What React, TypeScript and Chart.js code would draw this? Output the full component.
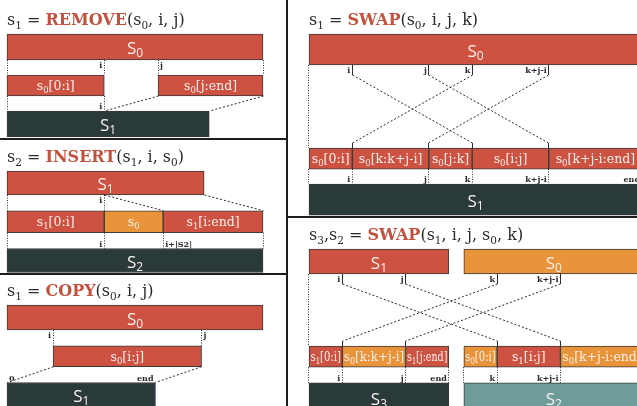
import { useEffect, useRef } from "react";
import { Chart, registerables } from "chart.js";

Chart.register(...registerables);

// ---------- colours ----------
const RED = "#cd5241";
const ORANGE = "#e9933a";
const DARK = "#2a3a3a";
const TEAL = "#6e9c98";
const EDGE = "#3a3a3a";
const INK = "#2a2a2a";
const OP_RED = "#c4503e";
const LABEL = "#fbf0ec";

const SERIF = '"DejaVu Serif", serif';
const SANS = '"Open Sans", "Noto Sans", sans-serif';

// ---------- data (string positions, in characters) ----------
// REMOVE(s0, i, j)
const removeTitle = "s_1 = *REMOVE*(s_0, i, j)";
const removeLen = 100;
const removeI = 38;
const removeJ = 59;

// INSERT(s1, i, s0)
const insertTitle = "s_2 = *INSERT*(s_1, i, s_0)";
const insertLen = 77;
const insertI = 38;
const insertSrcLen = 23;

// COPY(s0, i, j)
const copyTitle = "s_1 = *COPY*(s_0, i, j)";
const copyLen = 100;
const copyI = 18;
const copyJ = 76;

// SWAP(s0, i, j, k)
const swapTitle = "s_1 = *SWAP*(s_0, i, j, k)";
const swapLen = 100;
const swapI = 13;
const swapJ = 36;
const swapK = 49;

// SWAP(s1, i, j, s0, k)
const swap2Title = "s_3,s_2 = *SWAP*(s_1, i, j, s_0, k)";
const swap2S1Len = 42;
const swap2S0Len = 54;
const swap2I = 10;
const swap2J = 29;
const swap2K = 10;
const swap2Gap = 4.5;

// ---------- types ----------
type Seg = { row: number; from: number; to: number; color: string; label: string; big?: boolean };
type Guide = { gap: number; x: number };
type Link = { gap: number; from: number; to: number };
type Tag = { gap: number; x: number; text: string; side: "left" | "right"; pos: "top" | "bottom" };
type Frame = { left: number; top: number; width: number; height: number; x0: number; ppu: number; y0: number; pitch: number };
type Panel = {
  id: string;
  title: string;
  frame: Frame;
  levels: number[];
  thick: number[];
  segs: Seg[];
  guides: Guide[];
  links: Link[];
  bracket: boolean;
  tags: Tag[];
};

// ---------- panels ----------
const rmNewLen = removeLen - (removeJ - removeI);
const removePanel: Panel = {
  id: "remove",
  title: removeTitle,
  frame: { left: 0, top: 0, width: 285, height: 138, x0: 7, ppu: 2.56, y0: 47, pitch: 38.5 },
  levels: [0, 1, 2],
  thick: [26, 21, 26],
  segs: [
    { row: 0, from: 0, to: removeLen, color: RED, label: "S_0", big: true },
    { row: 1, from: 0, to: removeI, color: RED, label: "s_0[0:i]" },
    { row: 1, from: removeJ, to: removeLen, color: RED, label: "s_0[j:end]" },
    { row: 2, from: 0, to: rmNewLen, color: DARK, label: "S_1", big: true },
  ],
  guides: [
    { gap: 0, x: 0 }, { gap: 0, x: removeI }, { gap: 0, x: removeJ }, { gap: 0, x: removeLen },
    { gap: 1, x: 0 }, { gap: 1, x: removeI },
  ],
  links: [
    { gap: 1, from: removeJ, to: removeI },
    { gap: 1, from: removeLen, to: rmNewLen },
  ],
  bracket: false,
  tags: [
    { gap: 0, x: removeI, text: "i", side: "left", pos: "top" },
    { gap: 0, x: removeJ, text: "j", side: "right", pos: "top" },
    { gap: 1, x: removeI, text: "i", side: "left", pos: "bottom" },
  ],
};

const insEnd = insertI + insertSrcLen;
const insNewLen = insertLen + insertSrcLen;
const insertPanel: Panel = {
  id: "insert",
  title: insertTitle,
  frame: { left: 0, top: 140, width: 285, height: 133, x0: 7, ppu: 2.56, y0: 183, pitch: 38.75 },
  levels: [0, 1, 2],
  thick: [24, 22, 24],
  segs: [
    { row: 0, from: 0, to: insertLen, color: RED, label: "S_1", big: true },
    { row: 1, from: 0, to: insertI, color: RED, label: "s_1[0:i]" },
    { row: 1, from: insertI, to: insEnd, color: ORANGE, label: "s_0" },
    { row: 1, from: insEnd, to: insNewLen, color: RED, label: "s_1[i:end]" },
    { row: 2, from: 0, to: insNewLen, color: DARK, label: "S_2", big: true },
  ],
  guides: [
    { gap: 0, x: 0 }, { gap: 0, x: insertI },
    { gap: 1, x: 0 }, { gap: 1, x: insertI }, { gap: 1, x: insEnd }, { gap: 1, x: insNewLen },
  ],
  links: [
    { gap: 0, from: insertI, to: insEnd },
    { gap: 0, from: insertLen, to: insNewLen },
  ],
  bracket: false,
  tags: [
    { gap: 0, x: insertI, text: "i", side: "left", pos: "top" },
    { gap: 1, x: insertI, text: "i", side: "left", pos: "bottom" },
    { gap: 1, x: insEnd, text: "i+|S2|", side: "right", pos: "bottom" },
  ],
};

const copyNewLen = copyJ - copyI;
const copyPanel: Panel = {
  id: "copy",
  title: copyTitle,
  frame: { left: 0, top: 275, width: 285, height: 131, x0: 7, ppu: 2.56, y0: 317.5, pitch: 38.75 },
  levels: [0, 1, 2],
  thick: [25, 21, 25],
  segs: [
    { row: 0, from: 0, to: copyLen, color: RED, label: "S_0", big: true },
    { row: 1, from: copyI, to: copyJ, color: RED, label: "s_0[i:j]" },
    { row: 2, from: 0, to: copyNewLen, color: DARK, label: "S_1", big: true },
  ],
  guides: [{ gap: 0, x: copyI }, { gap: 0, x: copyJ }],
  links: [
    { gap: 1, from: copyI, to: 0 },
    { gap: 1, from: copyJ, to: copyNewLen },
  ],
  bracket: false,
  tags: [
    { gap: 0, x: copyI, text: "i", side: "left", pos: "top" },
    { gap: 0, x: copyJ, text: "j", side: "right", pos: "top" },
    { gap: 1, x: 0, text: "0", side: "right", pos: "bottom" },
    { gap: 1, x: copyNewLen, text: "end", side: "left", pos: "bottom" },
  ],
};

const swKji = swapK + swapJ - swapI;
const swapPanel: Panel = {
  id: "swap",
  title: swapTitle,
  frame: { left: 288, top: 0, width: 372, height: 216, x0: 309, ppu: 3.33, y0: 49.5, pitch: 41 },
  levels: [0, 2.66, 3.66],
  thick: [31, 21, 31],
  segs: [
    { row: 0, from: 0, to: swapLen, color: RED, label: "S_0", big: true },
    { row: 1, from: 0, to: swapI, color: RED, label: "s_0[0:i]" },
    { row: 1, from: swapI, to: swapJ, color: RED, label: "s_0[k:k+j-i]" },
    { row: 1, from: swapJ, to: swapK, color: RED, label: "s_0[j:k]" },
    { row: 1, from: swapK, to: swKji, color: RED, label: "s_0[i:j]" },
    { row: 1, from: swKji, to: swapLen, color: RED, label: "s_0[k+j-i:end]" },
    { row: 2, from: 0, to: swapLen, color: DARK, label: "S_1", big: true },
  ],
  guides: [
    { gap: 0, x: 0 },
    { gap: 1, x: 0 }, { gap: 1, x: swapI }, { gap: 1, x: swapJ }, { gap: 1, x: swapK }, { gap: 1, x: swKji }, { gap: 1, x: swapLen },
  ],
  links: [
    { gap: 0, from: swapI, to: swapK },
    { gap: 0, from: swapJ, to: swKji },
    { gap: 0, from: swapK, to: swapI },
    { gap: 0, from: swKji, to: swapJ },
  ],
  bracket: true,
  tags: [
    { gap: 0, x: swapI, text: "i", side: "left", pos: "top" },
    { gap: 0, x: swapJ, text: "j", side: "left", pos: "top" },
    { gap: 0, x: swapK, text: "k", side: "left", pos: "top" },
    { gap: 0, x: swKji, text: "k+j-i", side: "left", pos: "top" },
    { gap: 1, x: swapI, text: "i", side: "left", pos: "bottom" },
    { gap: 1, x: swapJ, text: "j", side: "left", pos: "bottom" },
    { gap: 1, x: swapK, text: "k", side: "left", pos: "bottom" },
    { gap: 1, x: swKji, text: "k+j-i", side: "left", pos: "bottom" },
    { gap: 1, x: swapLen, text: "end", side: "left", pos: "bottom" },
  ],
};

const off = swap2S1Len + swap2Gap;
const s2K = off + swap2K;
const s2Kji = off + swap2K + (swap2J - swap2I);
const s2End = off + swap2S0Len;
const swap2Panel: Panel = {
  id: "swap2",
  title: swap2Title,
  frame: { left: 288, top: 218, width: 372, height: 188, x0: 309, ppu: 3.33, y0: 261.5, pitch: 41 },
  levels: [0, 2.32, 3.34],
  thick: [25, 21, 31],
  segs: [
    { row: 0, from: 0, to: swap2S1Len, color: RED, label: "S_1", big: true },
    { row: 0, from: off, to: s2End, color: ORANGE, label: "S_0", big: true },
    { row: 1, from: 0, to: swap2I, color: RED, label: "s_1[0:i]" },
    { row: 1, from: swap2I, to: swap2J, color: ORANGE, label: "s_0[k:k+j-i]" },
    { row: 1, from: swap2J, to: swap2S1Len, color: RED, label: "s_1[j:end]" },
    { row: 1, from: off, to: s2K, color: ORANGE, label: "s_0[0:i]" },
    { row: 1, from: s2K, to: s2Kji, color: RED, label: "s_1[i:j]" },
    { row: 1, from: s2Kji, to: s2End, color: ORANGE, label: "s_0[k+j-i:end]" },
    { row: 2, from: 0, to: swap2S1Len, color: DARK, label: "S_3", big: true },
    { row: 2, from: off, to: s2End, color: TEAL, label: "S_2", big: true },
  ],
  guides: [
    { gap: 0, x: 0 },
    { gap: 1, x: 0 }, { gap: 1, x: swap2I }, { gap: 1, x: swap2J }, { gap: 1, x: swap2S1Len },
    { gap: 1, x: off }, { gap: 1, x: s2K }, { gap: 1, x: s2Kji }, { gap: 1, x: s2End },
  ],
  links: [
    { gap: 0, from: swap2I, to: s2K },
    { gap: 0, from: swap2J, to: s2Kji },
    { gap: 0, from: s2K, to: swap2I },
    { gap: 0, from: s2Kji, to: swap2J },
  ],
  bracket: true,
  tags: [
    { gap: 0, x: swap2I, text: "i", side: "left", pos: "top" },
    { gap: 0, x: swap2J, text: "j", side: "left", pos: "top" },
    { gap: 0, x: s2K, text: "k", side: "left", pos: "top" },
    { gap: 0, x: s2Kji, text: "k+j-i", side: "left", pos: "top" },
    { gap: 1, x: swap2I, text: "i", side: "left", pos: "bottom" },
    { gap: 1, x: swap2J, text: "j", side: "left", pos: "bottom" },
    { gap: 1, x: swap2S1Len, text: "end", side: "left", pos: "bottom" },
    { gap: 1, x: s2K, text: "k", side: "left", pos: "bottom" },
    { gap: 1, x: s2Kji, text: "k+j-i", side: "left", pos: "bottom" },
  ],
};

const panels: Panel[] = [removePanel, insertPanel, copyPanel, swapPanel, swap2Panel];

// ---------- rich text ----------
type Piece = { t: string; sub: boolean; bold: boolean };
type TextStyle = { family: string; size: number; subSize: number; subDy: number; color: string; weight?: string; opColor?: string };

const TITLE_STYLE: TextStyle = { family: SERIF, size: 16, subSize: 10.5, subDy: 4, color: "#2a2a2a", opColor: OP_RED };
const BIG_STYLE: TextStyle = { family: SANS, size: 17, subSize: 12, subDy: 3, color: LABEL };
const SEG_STYLE: TextStyle = { family: SERIF, size: 12.5, subSize: 8.5, subDy: 3, color: LABEL };
const TAG_STYLE: TextStyle = { family: SERIF, size: 8, subSize: 6, subDy: 2, color: INK, weight: "bold" };

function parsePieces(s: string): Piece[] {
  const out: Piece[] = [];
  let bold = false;
  let buf = "";
  const flush = () => {
    if (buf) out.push({ t: buf, sub: false, bold });
    buf = "";
  };
  for (let i = 0; i < s.length; i++) {
    const c = s[i];
    if (c === "*") {
      flush();
      bold = !bold;
    } else if (c === "_" && i + 1 < s.length) {
      flush();
      out.push({ t: s[i + 1], sub: true, bold });
      i++;
    } else buf += c;
  }
  flush();
  return out;
}

function drawRich(
  ctx: CanvasRenderingContext2D,
  s: string,
  x: number,
  y: number,
  align: "left" | "center" | "right",
  st: TextStyle,
  maxW = Infinity
) {
  const ps = parsePieces(s);
  const fontFor = (p: Piece, k: number) =>
    `${p.bold || st.weight === "bold" ? "bold " : ""}${(p.sub ? st.subSize : st.size) * k}px ${st.family}`;
  const measure = (k: number) =>
    ps.reduce((acc, p) => {
      ctx.font = fontFor(p, k);
      return acc + ctx.measureText(p.t).width;
    }, 0);
  const MIN_HS = 0.72;
  let k = 1;
  let hs = 1;
  let total = measure(1);
  if (total > maxW) {
    const need = maxW / total;
    if (need >= MIN_HS) {
      hs = need;
    } else {
      hs = MIN_HS;
      k = need / MIN_HS;
    }
    total = measure(k) * hs;
  }
  const start = align === "center" ? x - total / 2 : align === "right" ? x - total : x;
  ctx.save();
  ctx.translate(start, y);
  ctx.scale(hs, 1);
  ctx.textAlign = "left";
  ctx.textBaseline = "alphabetic";
  let cx = 0;
  for (const p of ps) {
    ctx.font = fontFor(p, k);
    ctx.fillStyle = p.bold && st.opColor ? st.opColor : st.color;
    ctx.fillText(p.t, cx, p.sub ? st.subDy * k : 0);
    cx += ctx.measureText(p.t).width;
  }
  ctx.restore();
}

function seg(ctx: CanvasRenderingContext2D, x1: number, y1: number, x2: number, y2: number) {
  ctx.beginPath();
  ctx.moveTo(x1, y1);
  ctx.lineTo(x2, y2);
  ctx.stroke();
}

function overlayPlugin(p: Panel) {
  return {
    id: "overlay_" + p.id,
    afterDatasetsDraw(chart: Chart) {
      const ctx = chart.ctx;
      const xs = chart.scales.x;
      const ys = chart.scales.y;
      const X = (v: number) => xs.getPixelForValue(v);
      const mid = (r: number) => ys.getPixelForValue(p.levels[r]);
      const rowTop = (r: number) => mid(r) - p.thick[r] / 2;
      const rowBot = (r: number) => mid(r) + p.thick[r] / 2;
      const crisp = (v: number) => Math.round(v) + 0.5;
      ctx.save();

      // title
      drawRich(ctx, p.title, X(0), rowTop(0) - 9, "left", TITLE_STYLE);

      // bar labels
      for (const s of p.segs) {
        const cx = (X(s.from) + X(s.to)) / 2;
        const w = X(s.to) - X(s.from) - 3;
        if (s.big) drawRich(ctx, s.label, cx, mid(s.row) + 7, "center", BIG_STYLE, w);
        else drawRich(ctx, s.label, cx, mid(s.row) + 4.5, "center", SEG_STYLE, w);
      }

      ctx.strokeStyle = INK;
      ctx.lineWidth = 1;

      // dotted guides between rows
      ctx.setLineDash([1, 1.5]);
      for (const g of p.guides) {
        const x = crisp(X(g.x) - 0.5);
        seg(ctx, x, rowBot(g.gap), x, rowTop(g.gap + 1));
      }

      // links
      for (const l of p.links) {
        const xa = crisp(X(l.from) - 0.5);
        const xb = crisp(X(l.to) - 0.5);
        const y1 = rowBot(l.gap);
        const y2 = rowTop(l.gap + 1);
        if (p.bracket) {
          ctx.setLineDash([]);
          seg(ctx, xa, y1, xa, y1 + 10);
          seg(ctx, xb, y2 - 5, xb, y2);
          ctx.setLineDash([2, 2]);
          seg(ctx, xa, y1 + 10, xb, y2 - 5);
        } else {
          ctx.setLineDash([2, 2]);
          seg(ctx, xa, y1, xb, y2);
        }
      }
      ctx.setLineDash([]);

      // small position tags
      for (const t of p.tags) {
        const y = t.pos === "top" ? rowBot(t.gap) + 8 : rowTop(t.gap + 1) - 2;
        const x = t.side === "left" ? X(t.x) - 2 : X(t.x) + 2;
        drawRich(ctx, t.text, x, y, t.side === "left" ? "right" : "left", TAG_STYLE);
      }
      ctx.restore();
    },
  };
}

function PanelChart({ p }: { p: Panel }) {
  const ref = useRef<HTMLCanvasElement | null>(null);
  useEffect(() => {
    if (!ref.current) return;
    const f = p.frame;
    const datasets = p.levels.map((lvl, r) => {
      const rowSegs = p.segs.filter((s) => s.row === r);
      return {
        data: rowSegs.map((s) => ({ x: [s.from, s.to], y: lvl })),
        backgroundColor: rowSegs.map((s) => s.color),
        borderColor: EDGE,
        borderWidth: 1,
        borderSkipped: false,
        barThickness: p.thick[r],
        grouped: false,
      };
    });
    const chart = new Chart(ref.current, {
      type: "bar",
      data: { datasets: datasets as any },
      options: {
        responsive: false,
        animation: false,
        events: [],
        indexAxis: "y",
        layout: { padding: 0 },
        plugins: { legend: { display: false }, tooltip: { enabled: false }, title: { display: false } },
        scales: {
          x: {
            type: "linear",
            display: false,
            offset: false,
            min: (f.left - f.x0) / f.ppu,
            max: (f.left + f.width - f.x0) / f.ppu,
          },
          y: {
            type: "linear",
            display: false,
            offset: false,
            reverse: true,
            min: (f.top - f.y0) / f.pitch,
            max: (f.top + f.height - f.y0) / f.pitch,
          },
        },
      } as any,
      plugins: [overlayPlugin(p)],
    });
    return () => chart.destroy();
  }, [p]);
  const f = p.frame;
  return (
    <canvas
      ref={ref}
      width={f.width}
      height={f.height}
      style={{ position: "absolute", left: f.left, top: f.top, width: f.width, height: f.height }}
    />
  );
}

const line = (left: number, top: number, width: number, height: number) => (
  <div style={{ position: "absolute", left, top, width, height, background: "#1e1e1e" }} />
);

export default function App() {
  return (
    <div
      style={{
        position: "fixed",
        left: 0,
        top: 0,
        width: 637,
        height: 406,
        overflow: "hidden",
        background: "#ffffff",
      }}
    >
      {panels.map((p) => (
        <PanelChart key={p.id} p={p} />
      ))}
      {line(286, 0, 2, 406)}
      {line(0, 138, 287, 2)}
      {line(0, 273, 287, 2)}
      {line(287, 216, 350, 2)}
    </div>
  );
}
